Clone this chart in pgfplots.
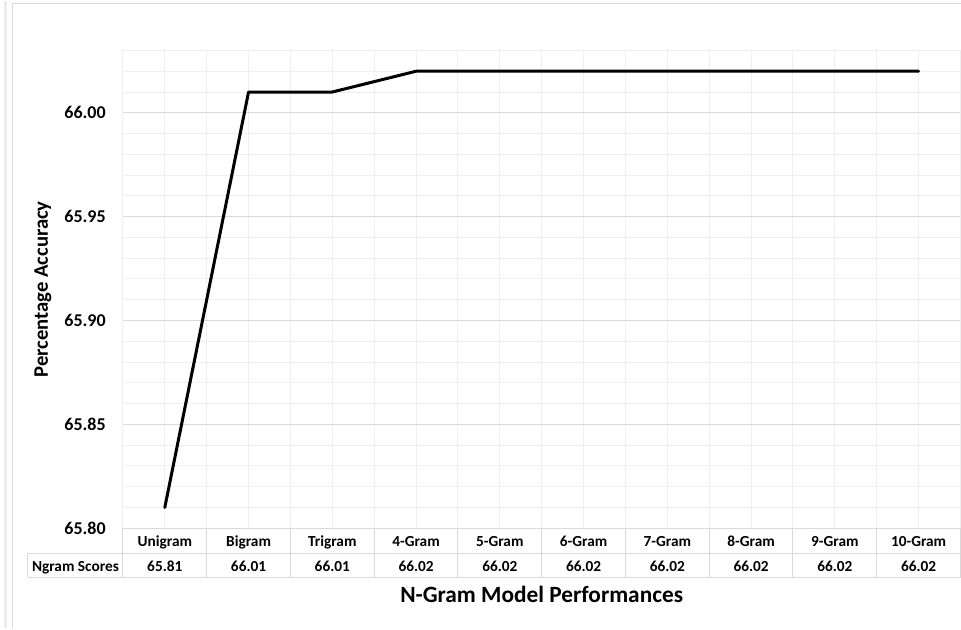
\documentclass[border=0pt]{standalone}
\usepackage{fontspec}
\setmainfont{Carlito}
\usepackage{pgfplots}
\usepackage{pgfplotstable}
\pgfplotsset{compat=1.18}

\definecolor{gridmajor}{HTML}{D9D9D9}
\definecolor{gridminor}{HTML}{EFEFEF}
\definecolor{tableline}{HTML}{D9D9D9}
\definecolor{frameline}{HTML}{D9D9D9}

\pgfplotstableread{
x name    score
0 Unigram 65.81
1 Bigram  66.01
2 Trigram 66.01
3 4-Gram  66.02
4 5-Gram  66.02
5 6-Gram  66.02
6 7-Gram  66.02
7 8-Gram  66.02
8 9-Gram  66.02
9 10-Gram 66.02
}\ngramdata

\begin{document}
\begin{tikzpicture}[x=0.75pt,y=0.75pt]
% canvas 961 x 627 units, origin at bottom left
\path[fill=white] (0,0) rectangle (961,627);
% chart frame
\draw[gray!15, line width=2.25pt] (5.5,0) -- (5.5,627);
\draw[frameline, line width=0.75pt] (12.5,0) -- (12.5,625) -- (961,625);

\begin{axis}[
  at={(92.25pt,75pt)}, anchor=south west,
  width=628.5pt, height=358.5pt, scale only axis,
  xmin=-0.5, xmax=9.5, ymin=65.80, ymax=66.03,
  xtick={0,...,9},
  xticklabels from table={\ngramdata}{name},
  minor xtick={-0.5,0.5,...,9.5},
  ytick={65.80,65.85,65.90,65.95,66.00},
  minor ytick={65.81,65.82,65.83,65.84,65.86,65.87,65.88,65.89,65.91,65.92,65.93,65.94,65.96,65.97,65.98,65.99,66.01,66.02,66.03},
  grid=both,
  major grid style={gridminor, line width=0.75pt},
  minor grid style={gridminor, line width=0.75pt},
  major y grid style={gridmajor, line width=0.75pt},
  major tick length=0pt, minor tick length=0pt,
  axis line style={gridminor, line width=0.75pt},
  yticklabel style={
    /pgf/number format/.cd, fixed, fixed zerofill, precision=2, assume math mode=true,
    /tikz/.cd, font=\bfseries\fontsize{13.5}{16}\selectfont, inner xsep=0pt, anchor=east, xshift=-12.75pt},
  xticklabel style={font=\bfseries\fontsize{11.5}{14}\selectfont, anchor=base, inner sep=0pt, yshift=-13.5pt},
  extra x ticks={0,...,9},
  extra x tick labels={65.81,66.01,66.01,66.02,66.02,66.02,66.02,66.02,66.02,66.02},
  extra x tick style={grid=none, xticklabel style={yshift=-18.75pt}},
  ylabel={Percentage Accuracy},
  ylabel style={at={(axis description cs:-0.0955,0.5)}, anchor=center, font=\bfseries\fontsize{15.5}{18}\selectfont},
  xlabel={N-Gram Model Performances},
  xlabel style={at={(axis description cs:0.5,-0.138)}, anchor=center, font=\bfseries\fontsize{17.5}{21}\selectfont},
  clip=false,
]
\addplot[black, line width=2.25pt, line join=round, line cap=round] table[x=x, y=score] {\ngramdata};
\end{axis}

% data table grid below the plot area
\begin{scope}[tableline, line width=0.75pt]
  \draw (123,100) -- (961,100);
  \draw (28,75) -- (961,75);
  \draw (28,51) -- (961,51);
  \draw (28,75) -- (28,51);
  \foreach \k in {0,...,10} {
    \draw ({123+83.8*\k},100) -- ({123+83.8*\k},51);
  }
\end{scope}
\node[anchor=base, inner sep=0pt, font=\bfseries\fontsize{11.5}{14}\selectfont] at (75.5,57) {Ngram Scores};
\end{tikzpicture}
\end{document}
